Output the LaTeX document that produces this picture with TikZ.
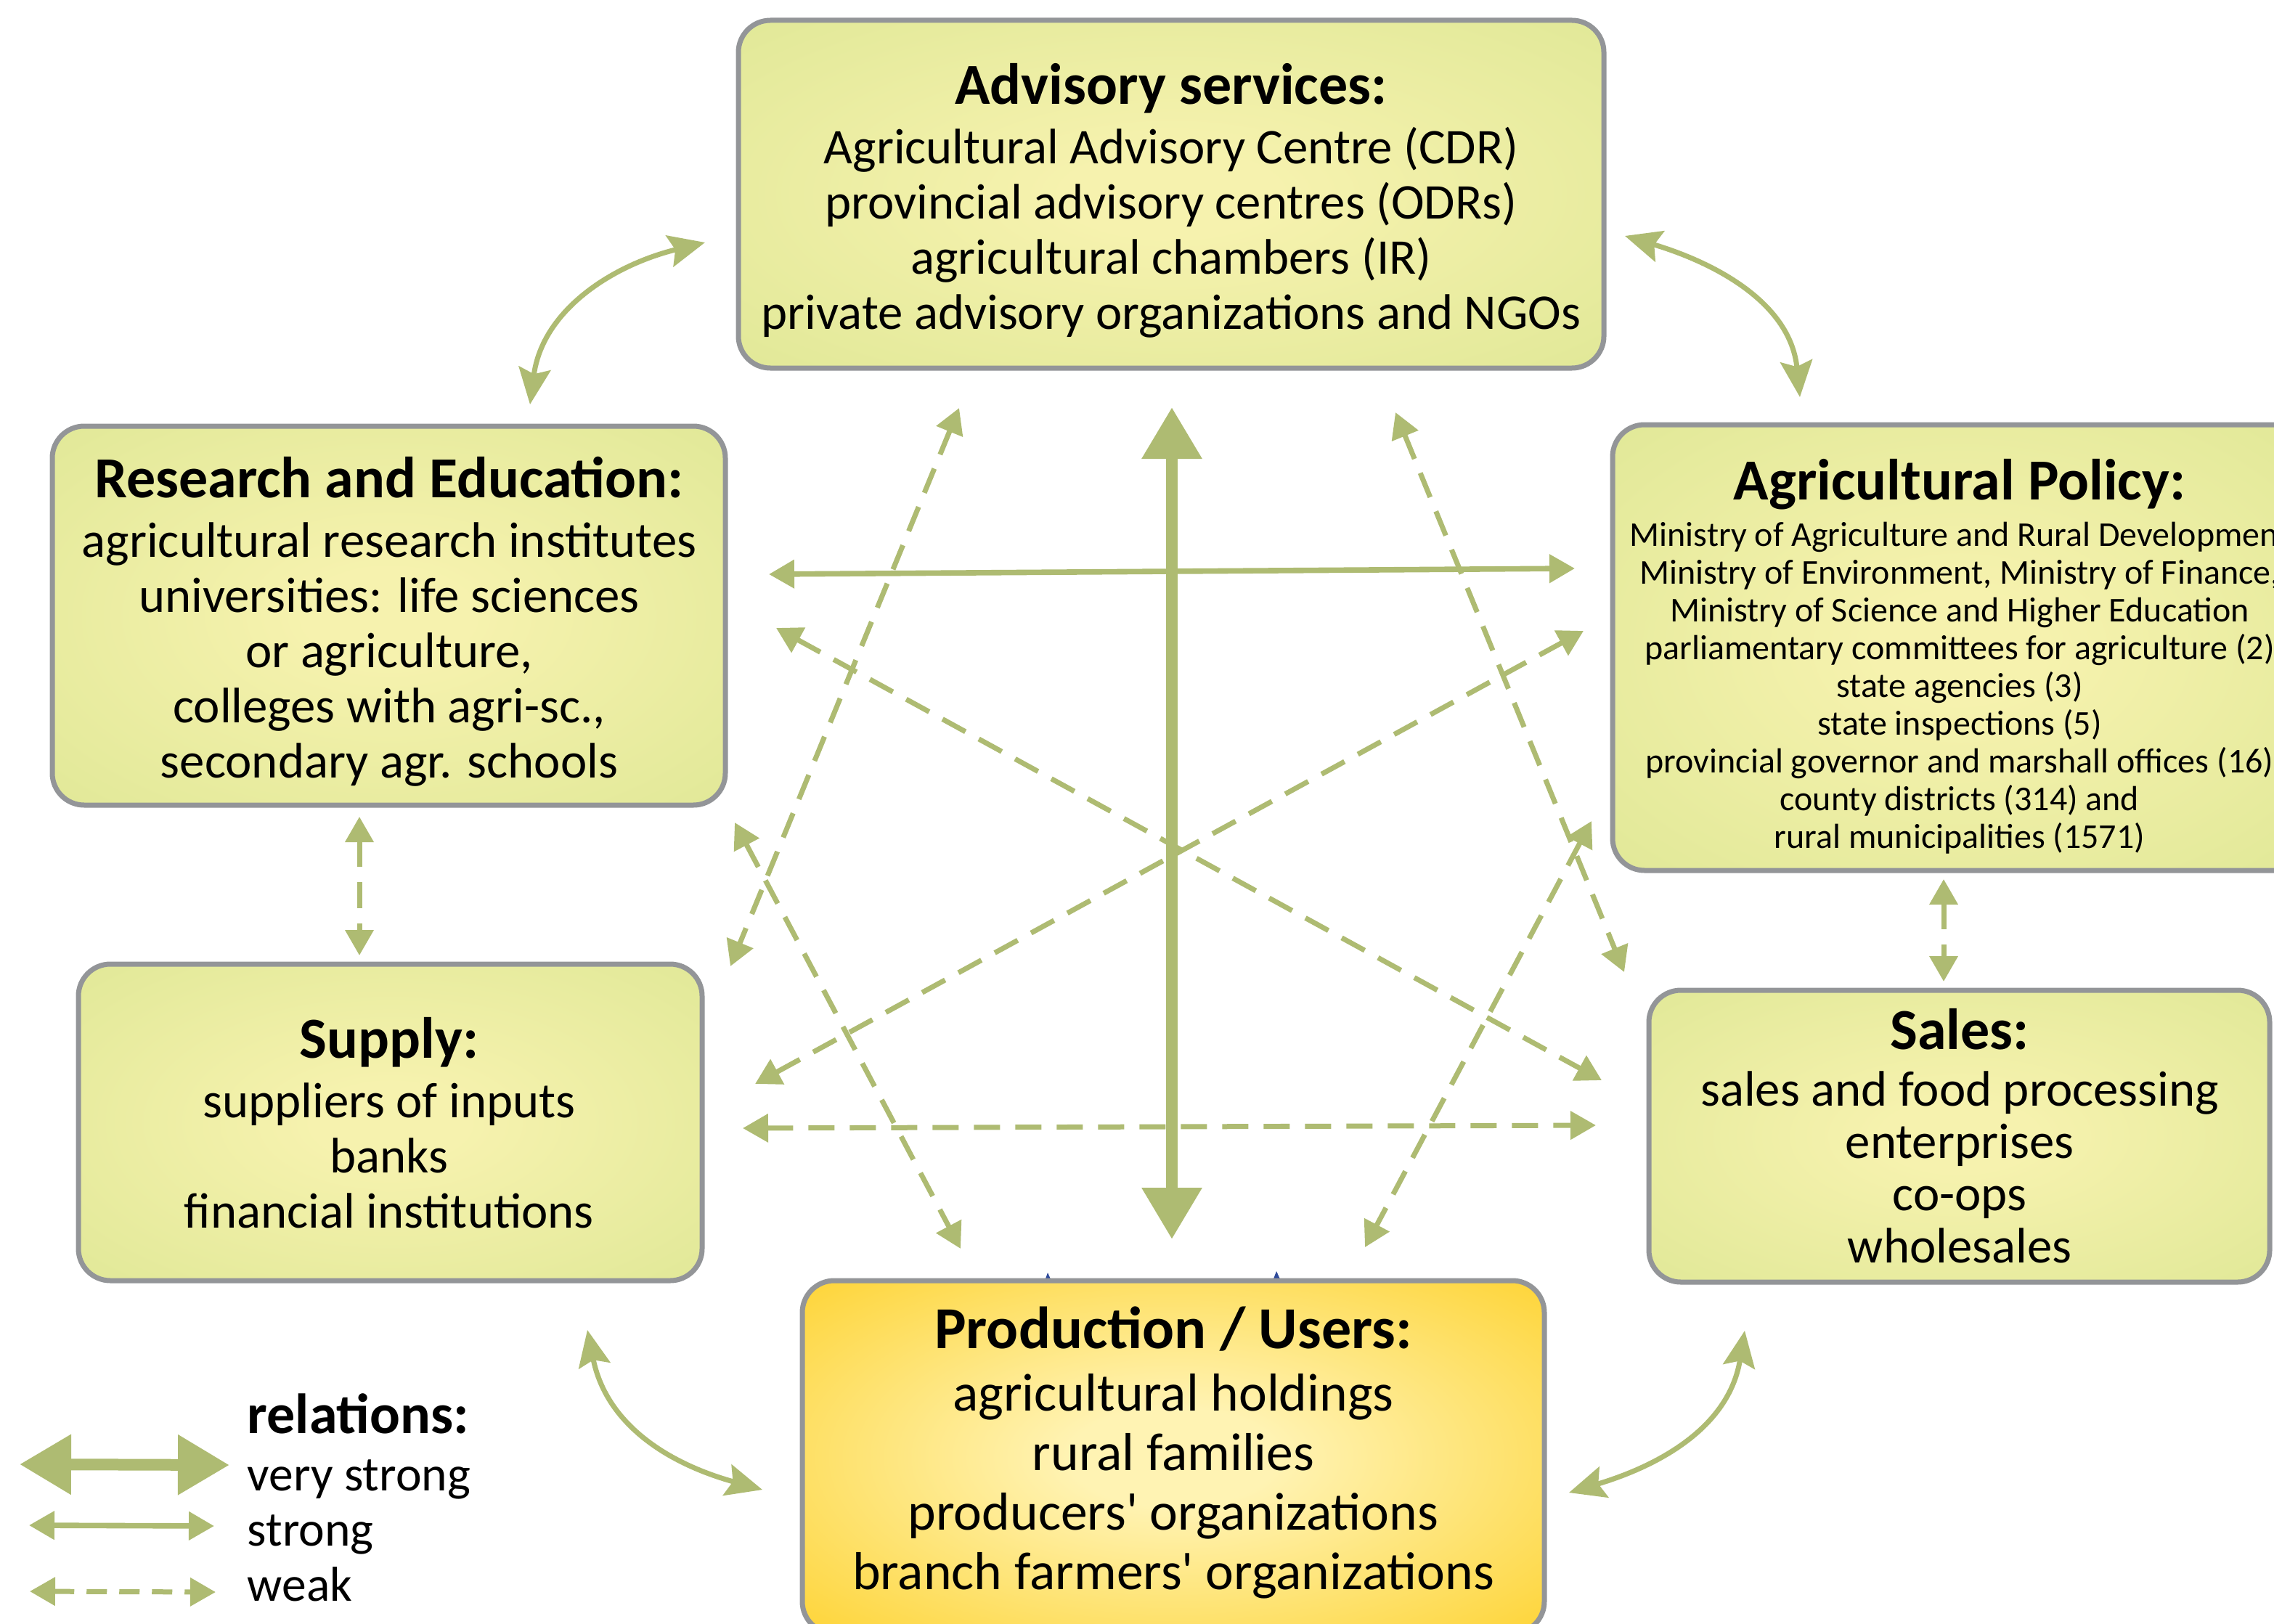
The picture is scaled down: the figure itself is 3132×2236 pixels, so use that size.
\documentclass[tikz,border=0pt]{standalone}
\usepackage{fontspec}
\setmainfont{Carlito}
\usetikzlibrary{arrows.meta}
\definecolor{arrowgreen}{HTML}{AEBB72}
\definecolor{boxgray}{HTML}{939598}
\definecolor{gIn}{HTML}{F6F2AE}
\definecolor{gOut}{HTML}{D3E289}
\definecolor{yIn}{HTML}{FFF3B3}
\definecolor{yOut}{HTML}{FDCA0E}
\definecolor{markblue}{HTML}{2F4B9B}
\pgfdeclareradialshading{greenglow}{\pgfpointorigin}{color(0bp)=(gIn); color(6bp)=(gIn); color(55bp)=(gOut); color(75bp)=(gOut)}
\pgfdeclareradialshading{goldglow}{\pgfpointorigin}{color(0bp)=(yIn); color(7bp)=(yIn); color(45bp)=(yOut); color(75bp)=(yOut)}
\newcommand{\boxtitle}[1]{{\fontsize{20pt}{22pt}\selectfont\bfseries #1}}
\tikzset{
  box/.style={draw=boxgray, line width=1.75pt, rounded corners=11pt, shading=greenglow, inner sep=0pt},
  goldbox/.style={box, shading=goldglow},
  boxtext/.style={align=center, inner sep=0pt, font=\fontsize{17.2pt}{19pt}\selectfont},
  vstrong/.style={draw=arrowgreen, line width=4pt,
    {Triangle[length=17.75pt,width=19.75pt]}-{Triangle[length=17.75pt,width=19.75pt]}},
  strongrel/.style={draw=arrowgreen, line width=1.9pt,
    {Triangle[length=8.75pt,width=9.5pt]}-{Triangle[length=8.75pt,width=9.5pt]}},
  weakrel/.style={draw=arrowgreen, line width=1.75pt, dash pattern=on 9pt off 5.25pt,
    {Triangle[length=8.75pt,width=9.5pt]}-{Triangle[length=8.75pt,width=9.5pt]}},
  curverel/.style={draw=arrowgreen, line width=1.75pt,
    {Stealth[length=12.5pt,width=11pt,inset=2pt]}-{Stealth[length=12.5pt,width=11pt,inset=2pt]}},
  legtext/.style={anchor=base west, inner sep=0pt, font=\fontsize{16.9pt}{19pt}\selectfont}
}
\begin{document}
\begin{tikzpicture}[x=0.25pt,y=-0.25pt]
\useasboundingbox (0,0) rectangle (3132,2236);
\clip (0,0) rectangle (3132,2236);

% boxes
\node[box, minimum width=298pt, minimum height=119.75pt] (adv) at (1613,267.5) {};
\node[boxtext] (advt) at (1613,276.5)
  {\boxtitle{Advisory services:}\\[1.5pt]
   Agricultural Advisory Centre (CDR)\\
   provincial advisory centres (ODRs)\\
   agricultural chambers (IR)\\
   private advisory organizations and NGOs};

\node[box, minimum width=231.75pt, minimum height=130.5pt] (res) at (535.5,848) {};
\node[boxtext] (rest) at (536,856)
  {\boxtitle{Research and Education:}\\[1.5pt]
   agricultural research institutes\\
   universities: life sciences\\
   or agriculture,\\
   colleges with agri-sc.,\\
   secondary agr. schools};

\node[box, minimum width=239pt, minimum height=153.5pt] (pol) at (2699,892) {};
\node[boxtext, font=\fontsize{12pt}{13pt}\selectfont] (polt) at (2699,904)
  {\boxtitle{Agricultural Policy:}\\[3pt]
   Ministry of Agriculture and Rural Development\\
   Ministry of Environment, Ministry of Finance,\\
   Ministry of Science and Higher Education\\
   parliamentary committees for agriculture (2)\\
   state agencies (3)\\
   state inspections (5)\\
   provincial governor and marshall offices (16)\\
   county districts (314) and\\
   rural municipalities (1571)};

\node[box, minimum width=214.75pt, minimum height=109pt] (sup) at (537.5,1546) {};
\node[boxtext] (supt) at (536,1547)
  {\boxtitle{Supply:}\\[1.5pt]
   suppliers of inputs\\
   banks\\
   financial institutions};

\node[box, minimum width=213.75pt, minimum height=100.5pt] (sal) at (2698.5,1565) {};
\node[boxtext, font=\fontsize{17.2pt}{18pt}\selectfont] (salt) at (2699,1565)
  {\boxtitle{Sales:}\\[1.5pt]
   sales and food processing\\
   enterprises\\
   co-ops\\
   wholesales};

% small dark marks peeking above the production box
\fill[markblue] (1439,1764) -- (1443,1753) -- (1448,1764) -- cycle;
\fill[markblue] (1753,1764) -- (1758,1751) -- (1764,1764) -- cycle;

\node[goldbox, minimum width=255.5pt, minimum height=121.5pt] (pro) at (1616,2007) {};
\node[boxtext, font=\fontsize{18.4pt}{20.5pt}\selectfont] (prot) at (1616,2001)
  {{\fontsize{20.5pt}{22pt}\selectfont\bfseries Production / Users:}\\[1pt]
   agricultural holdings\\
   rural families\\
   producers\textquotesingle{} organizations\\
   branch farmers\textquotesingle{} organizations};

% connector end points
\coordinate (c1a) at (730,557);   \coordinate (c1b) at (971,334);
\coordinate (c2a) at (2238,325);  \coordinate (c2b) at (2479,547);
\coordinate (c3a) at (809,1832);  \coordinate (c3b) at (1050,2052);
\coordinate (c4a) at (2403,1833); \coordinate (c4b) at (2161,2056);
\coordinate (vsa) at (1614,561);  \coordinate (vsb) at (1614,1707);
\coordinate (sta) at (1059,791);  \coordinate (stb) at (2169,783);
\coordinate (w1a) at (495,1125);  \coordinate (w1b) at (495,1316);
\coordinate (w2a) at (2677,1211); \coordinate (w2b) at (2677,1352);
\coordinate (w3a) at (1023,1554); \coordinate (w3b) at (2198,1550);
\coordinate (w4a) at (1069,865);  \coordinate (w4b) at (2206,1488);
\coordinate (w5a) at (2181,869);  \coordinate (w5b) at (1040,1493);
\coordinate (w6a) at (1321,562);  \coordinate (w6b) at (1006,1331);
\coordinate (w7a) at (1922,568);  \coordinate (w7b) at (2237,1339);
\coordinate (w8a) at (1012,1133); \coordinate (w8b) at (1323,1720);
\coordinate (w9a) at (2192,1131); \coordinate (w9b) at (1880,1718);

% curved strong links between neighbouring boxes
\draw[curverel] (c1a) .. controls (747,427) and (844,365) .. (c1b);
\draw[curverel] (c2a) .. controls (2362,362) and (2466,417) .. (c2b);
\draw[curverel] (c3a) .. controls (835,1962) and (920,2016) .. (c3b);
\draw[curverel] (c4a) .. controls (2382,1963) and (2291,2017) .. (c4b);

% weak links
\draw[weakrel] (w1a) -- (w1b);
\draw[weakrel] (w2a) -- (w2b);
\draw[weakrel] (w3a) -- (w3b);
\draw[weakrel] (w4a) -- (w4b);
\draw[weakrel] (w5a) -- (w5b);
\draw[weakrel] (w6a) -- (w6b);
\draw[weakrel] (w7a) -- (w7b);
\draw[weakrel] (w8a) -- (w8b);
\draw[weakrel] (w9a) -- (w9b);

% strong and very strong
\draw[strongrel] (sta) -- (stb);
\draw[vstrong] (vsa) -- (vsb);

% legend
\node[legtext, font=\fontsize{19.5pt}{22pt}\selectfont\bfseries] (legt) at (340,1974) {relations:};
\node[legtext] (legvs) at (340,2053) {very strong};
\node[legtext] (legs) at (340,2129) {strong};
\node[legtext] (legw) at (340,2205) {weak};
\coordinate (l1a) at (27,2017);  \coordinate (l1b) at (316,2018);
\coordinate (l2a) at (40,2101);  \coordinate (l2b) at (295,2102);
\coordinate (l3a) at (41,2192);  \coordinate (l3b) at (297,2193);
\draw[vstrong] (l1a) -- (l1b);
\draw[strongrel] (l2a) -- (l2b);
\draw[weakrel, dash pattern=on 7pt off 4.25pt] (l3a) -- (l3b);
\end{tikzpicture}
\end{document}
